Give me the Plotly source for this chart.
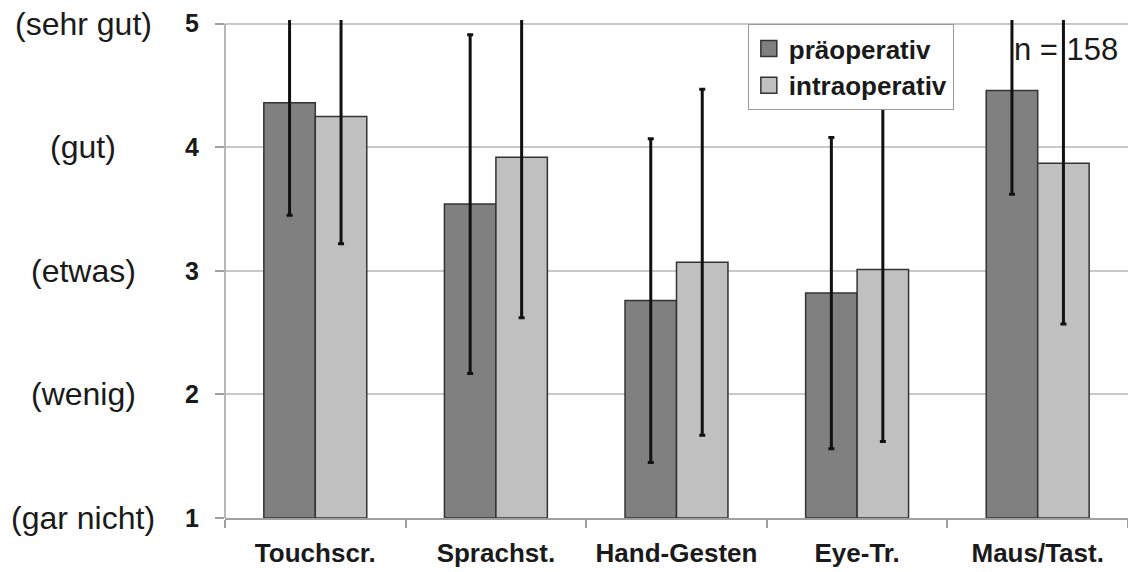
import plotly.graph_objects as go

# Bewertung der Eingabemodalitäten (Mittelwert ± Standardabweichung)
categories = ["Touchscr.", "Sprachst.", "Hand-Gesten", "Eye-Tr.", "Maus/Tast."]
prae_mean = [4.36, 3.54, 2.76, 2.82, 4.46]
prae_sd = [0.91, 1.37, 1.31, 1.26, 0.84]
intra_mean = [4.25, 3.92, 3.07, 3.01, 3.87]
intra_sd = [1.03, 1.30, 1.40, 1.39, 1.30]

scale_values = [5, 4, 3, 2, 1]
scale_words = ["(sehr gut)", "(gut)", "(etwas)", "(wenig)", "(gar nicht)"]

FONT = "Liberation Sans, Arial, sans-serif"
TXT = "#1a1a1a"
GRID = "#c8c8c8"
AXIS = "#a0a0a0"
EDGE = "#333333"
COL_PRAE = "#808080"
COL_INTRA = "#c0c0c0"


def err(sd):
    return dict(type="data", array=sd, visible=True, color="#111111",
                thickness=3, width=3)


fig = go.Figure()
fig.add_trace(go.Bar(
    name="präoperativ", x=categories, y=[m - 1 for m in prae_mean], base=1,
    marker=dict(color=COL_PRAE, line=dict(color=EDGE, width=1.5)),
    error_y=err(prae_sd), showlegend=False,
))
fig.add_trace(go.Bar(
    name="intraoperativ", x=categories, y=[m - 1 for m in intra_mean], base=1,
    marker=dict(color=COL_INTRA, line=dict(color=EDGE, width=1.5)),
    error_y=err(intra_sd), showlegend=False,
))

# legend entries with larger square swatches
for name, col in [("präoperativ", COL_PRAE), ("intraoperativ", COL_INTRA)]:
    fig.add_trace(go.Scatter(
        x=[None], y=[None], mode="markers", name=name,
        marker=dict(symbol="square", size=16, color=col,
                    line=dict(color=EDGE, width=1.5)),
    ))

# verbal labels of the rating scale, left of the numeric ticks
for v, w in zip(scale_values, scale_words):
    fig.add_annotation(x=-0.157, xref="paper", y=v, yref="y", text=w,
                       showarrow=False, xanchor="center", yanchor="middle",
                       font=dict(family=FONT, size=32, color=TXT))

fig.add_annotation(x=0.991, xref="paper", y=0.94, yref="paper", text="n = 158",
                   showarrow=False, xanchor="right", yanchor="middle",
                   font=dict(family=FONT, size=31, color=TXT))

# vertical axis line only up to the top of the scale
fig.add_shape(type="line", xref="paper", x0=0, x1=0, yref="y", y0=1, y1=5,
              line=dict(color=AXIS, width=1.5), layer="above")

fig.update_layout(
    width=1128, height=572,
    margin=dict(l=225, r=0, t=20, b=54),
    paper_bgcolor="white", plot_bgcolor="white",
    barmode="group", bargap=0.43, bargroupgap=0,
    showlegend=True,
    legend=dict(x=0.579, y=0.992, xanchor="left", yanchor="top",
                bgcolor="white", bordercolor="#999999", borderwidth=1,
                font=dict(family=FONT, size=26, color=TXT, weight="bold"),
                itemwidth=30, tracegroupgap=0),
    xaxis=dict(showline=True, linecolor=AXIS, linewidth=1.5,
               ticks="outside", ticklen=8, tickcolor=AXIS, tickwidth=1.5,
               tickson="boundaries", ticklabelstandoff=11,
               tickfont=dict(family=FONT, size=26, color=TXT, weight="bold"),
               showgrid=False, zeroline=False),
    yaxis=dict(range=[1, 5.03], tickvals=scale_values,
               showline=False, ticks="outside", ticklen=9, tickcolor=AXIS,
               tickwidth=1.5, ticklabelstandoff=11,
               tickfont=dict(family=FONT, size=25, color=TXT, weight="bold"),
               showgrid=True, gridcolor=GRID, gridwidth=1.5, zeroline=False),
)

fig.write_html("out.html")
